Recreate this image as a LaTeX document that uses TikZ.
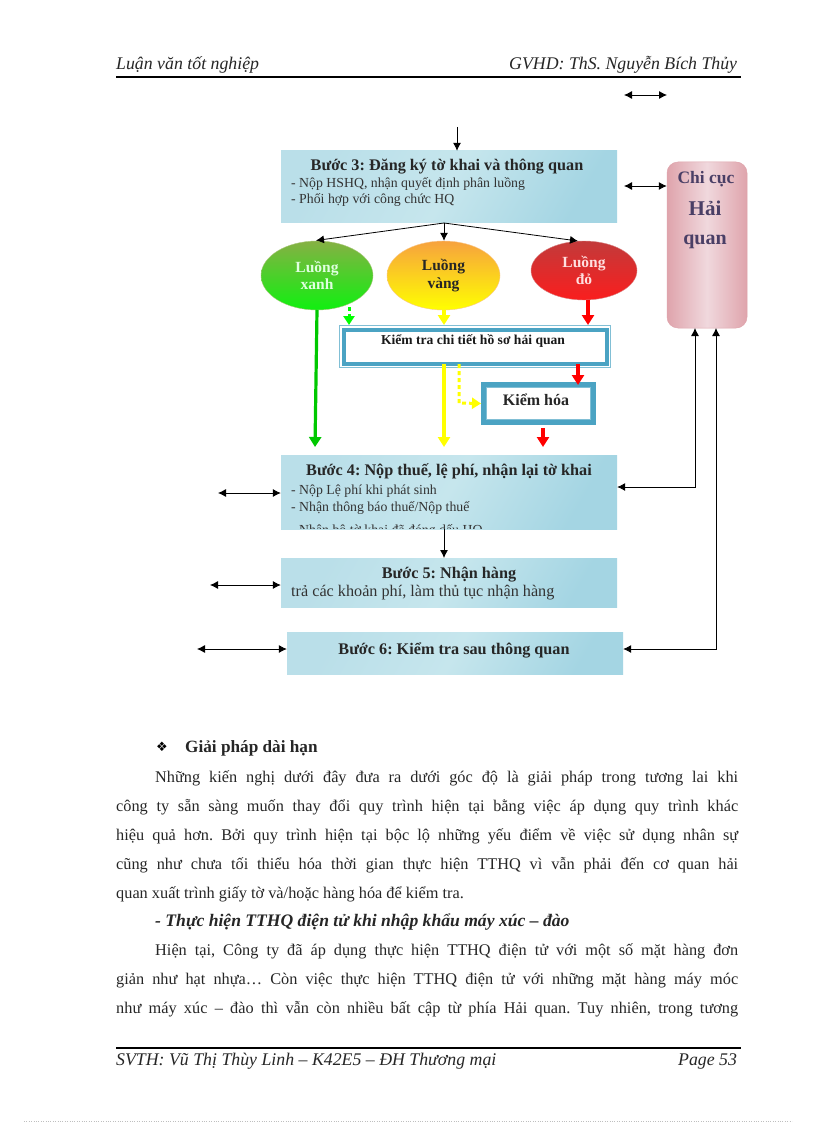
\documentclass[tikz,border=0pt]{standalone}
\usepackage{fontspec}
\setmainfont{Liberation Serif}
\usetikzlibrary{shapes.geometric,arrows.meta}
\frenchspacing
\newcommand{\fs}[1]{\fontsize{#1}{#1}\selectfont}
\newcommand{\just}[2]{\hbox to #1pt{#2}}
\definecolor{boxL}{HTML}{BADFE9}
\definecolor{boxM}{HTML}{C6E6ED}
\definecolor{boxR}{HTML}{A4D5E3}
\definecolor{teal1}{HTML}{4BA3C3}
\definecolor{hq}{HTML}{4A3F66}
\definecolor{gdark}{HTML}{00C800}
\definecolor{gtop}{HTML}{86B044}
\definecolor{gbot}{HTML}{10F010}
\definecolor{ytop}{HTML}{F7A23E}
\definecolor{rtop}{HTML}{C23A3A}
\definecolor{rbot}{HTML}{FA1E1E}
\definecolor{pinkE}{HTML}{DFA4AC}
\definecolor{pinkM}{HTML}{F0D8DD}
\definecolor{pureY}{RGB}{255,255,0}
\tikzset{
  stepbox/.style={rectangle,inner sep=0,left color=boxL,right color=boxR,middle color=boxM,shading angle=60},
  flow/.style={ellipse,inner sep=0,align=center,font=\fs{15.5}\bfseries},
  title/.style={inner sep=0,font=\fs{16.2}\bfseries,text=black!85},
  sub/.style={inner sep=0,anchor=west,font=\fs{13.8},text=black!80},
  body/.style={inner sep=0,anchor=base west,font=\fs{16.3},text=black!85},
  hdr/.style={inner sep=0,anchor=base west,font=\fs{17.8}\itshape,text=black!85},
  blk/.style={draw=black,line width=.8pt,-{Latex[length=8pt,width=8pt]}},
  blk2/.style={draw=black,line width=.8pt,{Latex[length=8pt,width=8pt]}-{Latex[length=8pt,width=8pt]}},
  col/.style={draw=#1,line width=3.2pt,-{Triangle[length=10pt,width=12pt]}},
  coldash/.style={draw=#1,line width=3pt,dash pattern=on 4pt off 3pt,-{Triangle[length=9pt,width=11pt,sep=0pt]}},
}
\begin{document}
\begin{tikzpicture}[x=1pt,y=-1pt]
\useasboundingbox (0,0) rectangle (816,1123);
\fill[white] (0,0) rectangle (816,1123);
% header
\node[hdr] (h1) at (116,70) {Luận văn tốt nghiệp};
\node[hdr] (h2) at (509,70) {GVHD: ThS. Nguyễn Bích Thủy};
\draw[line width=1.6pt] (116,77) coordinate (hl) -- (741,77) coordinate (hr);
% steps
\node[stepbox,minimum width=336pt,minimum height=72pt] (s3) at (449,187) {};
\node[title] (s3t) at (447,167) {Bước 3: Đăng ký tờ khai và thông quan};
\node[sub] (s3a) at (291,184) {- Nộp HSHQ, nhận quyết định phân luồng};
\node[sub] (s3b) at (291,200) {- Phối hợp với công chức HQ};
\node[stepbox,minimum width=336pt,minimum height=74pt] (s4) at (449,492) {};
\node[title] (s4t) at (449,471) {Bước 4: Nộp thuế, lệ phí, nhận lại tờ khai};
\node[sub] (s4a) at (291,491) {- Nộp Lệ phí khi phát sinh};
\node[sub] (s4b) at (291,508) {- Nhận thông báo thuế/Nộp thuế};
\begin{scope}
\clip (281,510) rectangle (617,528);
\node[sub] (s4c) at (291,531) {- Nhận bộ tờ khai đã đóng dấu HQ};
\end{scope}
\node[stepbox,minimum width=336pt,minimum height=49pt] (s5) at (449,582.5) {};
\node[title] (s5t) at (449,575) {Bước 5: Nhận hàng};
\node[sub,font=\fs{16.2}] (s5a) at (291,593) {trả các khoản phí, làm thủ tục nhận hàng};
\node[stepbox,minimum width=336pt,minimum height=42pt] (s6) at (455,653) {};
\node[title] (s6t) at (454,650) {Bước 6: Kiểm tra sau thông quan};
% customs
\node[rectangle,rounded corners=11pt,inner sep=0,minimum width=80pt,minimum height=166pt,
  left color=pinkE,right color=pinkE,middle color=pinkM,draw=pinkE,line width=.5pt] (cc) at (707,245) {};
\node[inner sep=0,font=\fs{17.5}\bfseries,text=hq] (cc1) at (706,179) {Chi cục};
\node[inner sep=0,font=\fs{21}\bfseries,text=hq] (cc2) at (705,208) {Hải};
\node[inner sep=0,font=\fs{20}\bfseries,text=hq] (cc3) at (705,242) {quan};
% flows
\node[flow,minimum width=112pt,minimum height=69pt,top color=gtop,bottom color=gbot,text=white!88!green,draw=gtop!70!white,line width=.4pt] (g) at (317,275.5) {Luồng\\[2pt]xanh};
\node[flow,minimum width=113pt,minimum height=69pt,top color=ytop,bottom color=pureY,text=black!85,draw=ytop!60!white,line width=.4pt] (y) at (443.5,275.5) {Luồng\\[2pt]vàng};
\node[flow,minimum width=106pt,minimum height=59pt,top color=rtop,bottom color=rbot,text=white!88!red,draw=rtop!60!white,line width=.4pt] (r) at (584,270.5) {Luồng\\[2pt]đỏ};
% check boxes
\node[rectangle,draw=teal1!70!white,fill=white,line width=.7pt,minimum width=271pt,minimum height=42pt,inner sep=0] (k1o) at (475,346.5) {};
\node[rectangle,draw=teal1,fill=white,line width=4pt,minimum width=263pt,minimum height=34pt,inner sep=0] (k1) at (475,346.5) {};
\node[inner sep=0,font=\fs{13.6}\bfseries,text=black!90] (k1t) at (473,341) {Kiểm tra chi tiết hồ sơ hải quan};
\node[rectangle,draw=teal1,fill=white,line width=5pt,minimum width=110pt,minimum height=38pt,inner sep=0] (k2) at (538.5,403.5) {};
\node[rectangle,draw=teal1!70!white,line width=.5pt,minimum width=104pt,minimum height=32pt,inner sep=0] (k2i) at (538.5,403.5) {};
\node[inner sep=0,font=\fs{16}\bfseries,text=black!85] (k2t) at (536,400) {Kiểm hóa};
% black connectors
\coordinate (top) at (457,127);
\draw[blk] (top) -- (top |- s3.north);
\coordinate (d0) at (624,95); \coordinate (d1) at (667,95);
\draw[blk2] (d0) -- (d1);
\coordinate (d2) at (624,186);
\draw[blk2] (d2) -- (d2 -| cc.west);
\coordinate (br) at (444,223);
\draw[blk] (br) -- (316,240.5);
\draw[blk] (br) -- (y.north -| br);
\draw[blk] (br) -- (578,241);
\coordinate (u1) at (695,328); \coordinate (u2) at (716,328);
\coordinate (c4) at (695,487); \coordinate (c6) at (716,649);
\draw[blk2] (u1) -- (c4) -- (c4 -| s4.east);
\draw[blk2] (u2) -- (c6) -- (c6 -| s6.east);
\coordinate (l4) at (218,493); \coordinate (l5) at (210,585); \coordinate (l6) at (197,649);
\draw[blk2] (l4) -- (l4 -| s4.west);
\draw[blk2] (l5) -- (l5 -| s5.west);
\draw[blk2] (l6) -- (l6 -| s6.west);
\draw[blk] (444,529) -- (444,558);
% coloured connectors
\coordinate (ga) at (317,310); \coordinate (gb) at (315,447);
\draw[col=gdark] (ga) -- (gb);
\draw[coldash=green] (349,307) -- (349,325);
\draw[col=pureY] (444,310) -- (444,325);
\draw[col=red] (588,300) -- (588,325);
\draw[col=pureY] (444,364) -- (444,447);
\draw[coldash=pureY] (459,364) -- (459,403) -- (k2.west);
\draw[col=red] (578,364) -- (578,385);
\draw[col=red] (543,428) -- (543,447);
% body text
\node[inner sep=0,font=\fontspec{DejaVu Sans}\fs{13}] (bul) at (162,747) {❖};
\node[body,font=\fs{17.2}\bfseries] (b0) at (185,752) {Giải pháp dài hạn};
\node[body] (b1) at (155,782) {\just{583}{Những kiến nghị dưới đây đưa ra dưới góc độ là giải pháp trong tương lai khi}};
\node[body] (b2) at (116,811) {\just{622}{công ty sẵn sàng muốn thay đổi quy trình hiện tại bằng việc áp dụng quy trình khác}};
\node[body] (b3) at (116,840) {\just{622}{hiệu quả hơn. Bởi quy trình hiện tại bộc lộ những yếu điểm về việc sử dụng nhân sự}};
\node[body] (b4) at (116,869) {\just{622}{cũng như chưa tối thiểu hóa thời gian thực hiện TTHQ vì vẫn phải đến cơ quan hải}};
\node[body] (b5) at (116,898) {quan xuất trình giấy tờ và/hoặc hàng hóa để kiểm tra.};
\node[body,font=\fs{17.6}\bfseries\itshape] (b6) at (155,926) {- Thực hiện TTHQ điện tử khi nhập khẩu máy xúc – đào};
\node[body] (b7) at (155,955) {\just{583}{Hiện tại, Công ty đã áp dụng thực hiện TTHQ điện tử với một số mặt hàng đơn}};
\node[body] (b8) at (116,984) {\just{622}{giản như hạt nhựa… Còn việc thực hiện TTHQ điện tử với những mặt hàng máy móc}};
\node[body] (b9) at (116,1013) {\just{622}{như máy xúc – đào thì vẫn còn nhiều bất cập từ phía Hải quan. Tuy nhiên, trong tương}};
% footer
\draw[line width=1.6pt] (116,1048) coordinate (fl) -- (741,1048) coordinate (fr);
\node[hdr] (f1) at (116,1065) {SVTH: Vũ Thị Thùy Linh – K42E5 – ĐH Thương mại};
\node[hdr] (f2) at (678,1065) {Page 53};
\draw[black!25,line width=.4pt,dotted] (24,1121) coordinate (pl) -- (792,1121) coordinate (pr);
\end{tikzpicture}
\end{document}
